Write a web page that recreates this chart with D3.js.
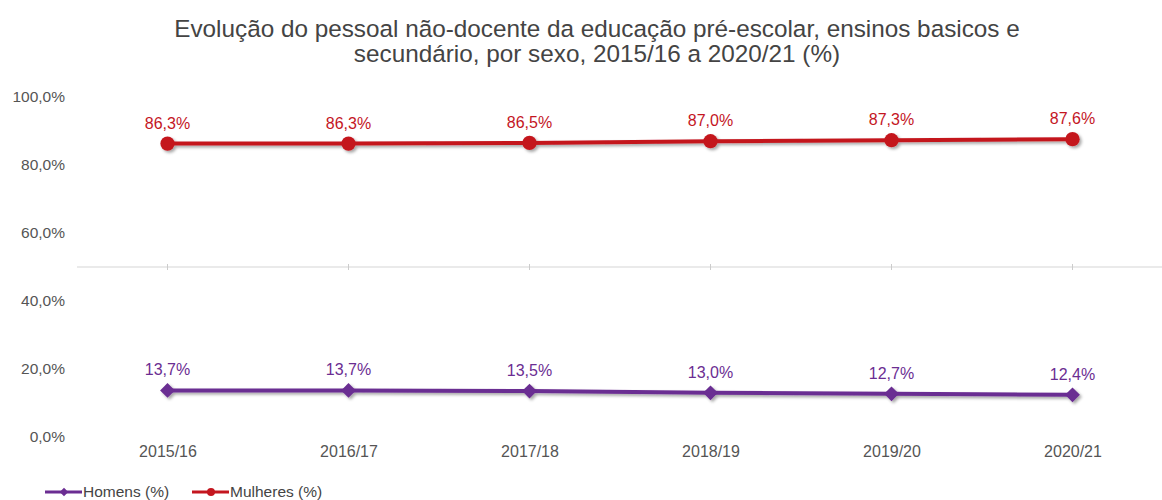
<!DOCTYPE html>
<html><head><meta charset="utf-8">
<script src="https://cdn.jsdelivr.net/npm/d3@7"></script>
<style>body{margin:0;background:#fff}svg{display:block;font-family:"Liberation Sans",Arial,sans-serif}</style>
</head><body><svg id="c" width="1162" height="500"></svg>
<script>
const categories = ["2015/16","2016/17","2017/18","2018/19","2019/20","2020/21"];
const homens = [13.7,13.7,13.5,13.0,12.7,12.4];
const mulheres = [86.3,86.3,86.5,87.0,87.3,87.6];
const yTicks = [0,20,40,60,80,100];
const titleLines = ["Evolução do pessoal não-docente da educação pré-escolar, ensinos basicos e","secundário, por sexo, 2015/16 a 2020/21 (%)"];
const fmt = v => v.toFixed(1).replace(".", ",") + "%";
const svg = d3.select("#c");
const defs = svg.append("defs");
const f = defs.append("filter").attr("id","sh").attr("x","-10%").attr("y","-50%").attr("width","120%").attr("height","200%");
f.append("feDropShadow").attr("dx",2).attr("dy",2).attr("stdDeviation",1.5).attr("flood-color","#000").attr("flood-opacity",0.35);
const x = d3.scalePoint().domain(categories).range([77,1163]).padding(0.5);
const y = d3.scaleLinear().domain([0,100]).range([437,97]);
svg.append("g").selectAll("text").data(titleLines).join("text")
  .attr("x",597).attr("y",(d,i)=>37+i*25).attr("text-anchor","middle")
  .attr("font-size",24.3).attr("fill","#444").text(d=>d);
const ya = svg.append("g").attr("transform","translate(65,0)")
  .call(d3.axisLeft(y).tickValues(yTicks).tickSize(0).tickPadding(0).tickFormat(fmt));
ya.select(".domain").remove();
ya.selectAll("text").attr("font-size",15.5).attr("fill","#555").attr("font-family","inherit");
svg.append("line").attr("x1",77).attr("x2",1162).attr("y1",y(50)).attr("y2",y(50)).attr("stroke","#d6d6d6").attr("stroke-width",1.2);
svg.append("g").selectAll("line").data(categories).join("line")
  .attr("x1",d=>x(d)).attr("x2",d=>x(d)).attr("y1",y(50)-3).attr("y2",y(50)+3).attr("stroke","#ccc");
const xl = svg.append("g").attr("transform","translate(0,457)")
  .call(d3.axisBottom(x).tickSize(0).tickPadding(0));
xl.select(".domain").remove();
xl.selectAll("text").attr("font-size",16).attr("fill","#555").attr("font-family","inherit").attr("dy","0");
const series = [
  {name:"Homens (%)", vals:homens, color:"#6b2d92", shape:d3.symbolDiamond2},
  {name:"Mulheres (%)", vals:mulheres, color:"#c4161f", shape:d3.symbolCircle}
];
const line = d3.line().x((d,i)=>x(categories[i])).y(d=>y(d));
series.forEach(s=>{
  const g = svg.append("g").attr("filter","url(#sh)");
  g.append("path").attr("d",line(s.vals)).attr("fill","none").attr("stroke",s.color).attr("stroke-width",4);
  g.selectAll("path.m").data(s.vals).join("path").attr("class","m")
    .attr("transform",(d,i)=>`translate(${x(categories[i])},${y(d)})`)
    .attr("d",d3.symbol().type(s.shape).size(s.shape===d3.symbolCircle?160:140)).attr("fill",s.color);
  svg.append("g").selectAll("text").data(s.vals).join("text")
    .attr("x",(d,i)=>x(categories[i])).attr("y",d=>y(d)-15).attr("text-anchor","middle")
    .attr("font-size",16).attr("fill",s.color).text(fmt);
});
const lg = svg.append("g");
const legPos = [45,192];
series.forEach((s,i)=>{
  const g = lg.append("g").attr("transform",`translate(${legPos[i]},492)`);
  g.append("line").attr("x1",0).attr("x2",37).attr("stroke",s.color).attr("stroke-width",3);
  g.append("path").attr("transform","translate(19,0)").attr("d",d3.symbol().type(s.shape).size(s.shape===d3.symbolCircle?50:45)).attr("fill",s.color);
  g.append("text").attr("x",38).attr("dy","0.35em").attr("font-size",15.5).attr("fill","#444").text(s.name);
});
</script></body></html>
